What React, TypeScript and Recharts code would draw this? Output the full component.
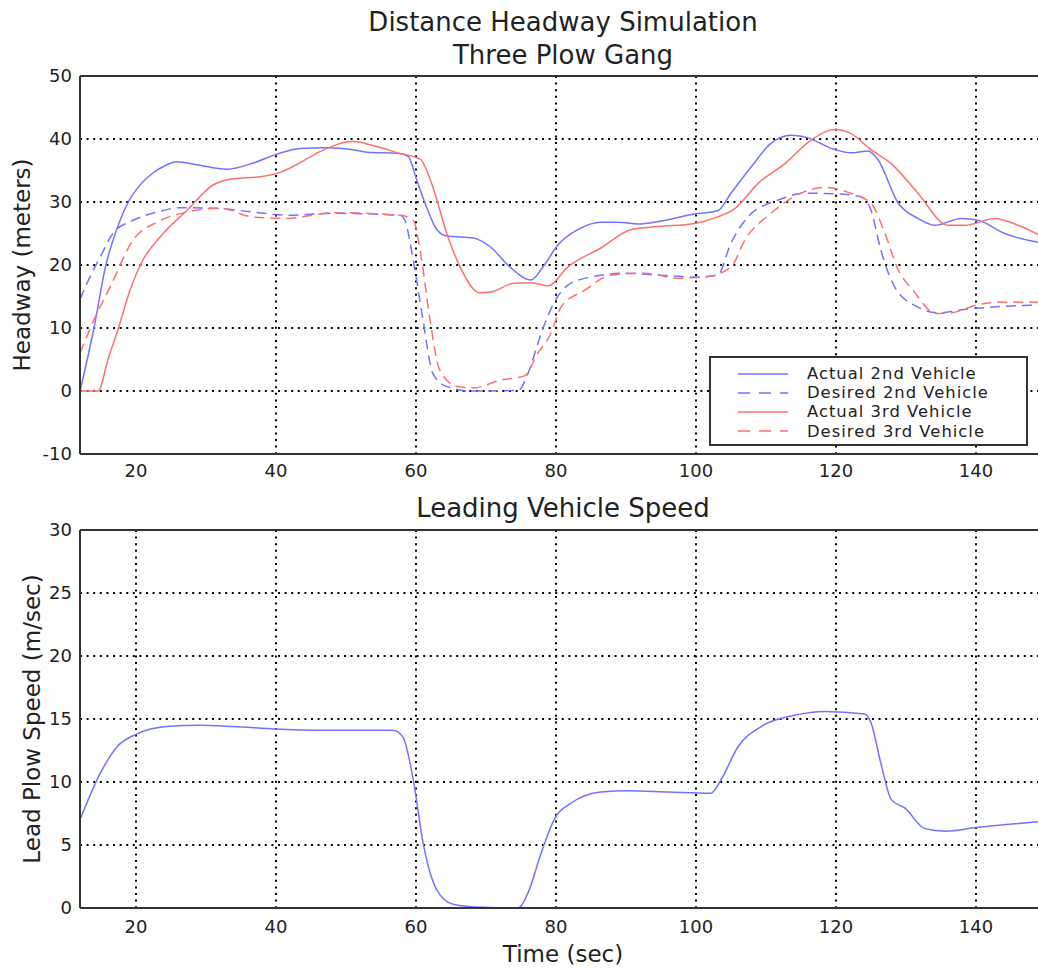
import React from "react";
import {
  CartesianGrid,
  Legend,
  Line,
  LineChart,
  ReferenceLine,
  XAxis,
  YAxis,
} from "recharts";

const timeTicks = [20, 40, 60, 80, 100, 120, 140];
const headwayTicks = [-10, 0, 10, 20, 30, 40, 50];
const speedTicks = [0, 5, 10, 15, 20, 25, 30];

// [time (sec), headway (m)]
const actual2nd: [number, number][] = [
  [12, 0], [14, 10], [15.7, 20], [17.2, 25.5], [18.9, 30], [20.5, 32.6],
  [22.4, 34.6], [24.2, 35.8], [25.8, 36.4], [28.7, 35.9], [33, 35.2],
  [36.8, 36.2], [40.1, 37.6], [43.4, 38.5], [47.2, 38.6], [51, 38.3],
  [53, 37.9], [57.7, 37.7], [58.9, 37.2], [60.1, 33.5], [61.5, 29.2],
  [63, 25.6], [64.4, 24.6], [68.2, 24.3], [70.6, 22.9], [73.4, 19.7],
  [76.4, 17.6], [78.2, 19.8], [80.3, 23.2], [83.1, 25.6], [86.4, 26.8],
  [88.9, 26.8], [91.7, 26.5], [95, 27], [99.8, 28.1], [103.1, 28.6],
  [105, 31.4], [107.9, 35.6], [110.7, 39.3], [113.6, 40.6], [115.6, 40.3],
  [119.9, 38.3], [122.1, 37.8], [124.6, 38.1], [126, 36.7], [128.9, 29.8],
  [131.7, 27.4], [134.1, 26.3], [137.9, 27.4], [140.3, 27.1], [144.1, 25],
  [150, 23.4],
];

const desired2nd: [number, number][] = [
  [12, 14.5], [13, 17.1], [14.9, 21.3], [16.7, 25], [19.6, 27.1], [23, 28.4],
  [26.3, 29.1], [31.4, 29], [36.8, 28.4], [41.6, 27.9], [48.2, 28.2],
  [57.7, 27.9], [58.4, 27.1], [59.6, 20.8], [61, 11.3], [62.4, 2.8],
  [64.4, 0.7], [68.2, 0], [74.6, 0.1], [76, 2.8], [77.9, 9.2], [79.9, 14.4],
  [81.7, 16.8], [85, 18.1], [89.9, 18.7], [94.6, 18.4], [99.8, 18.1],
  [103.1, 18.4], [105, 23.5], [107.4, 27.6], [111.7, 30.3], [115.6, 31.4],
  [120.3, 31.3], [123.6, 30.8], [125, 28.7], [126.4, 22.4], [128.4, 16.5],
  [131.7, 13.3], [134.6, 12.4], [137.9, 12.9], [142.1, 13.3], [150, 13.7],
];

const actual3rd: [number, number][] = [
  [12, 0], [14.6, 0], [16, 5], [17.5, 10], [19, 15.5], [20.7, 20.2],
  [23.4, 24.4], [27.3, 28.7], [31, 32.7], [33.9, 33.7], [37.7, 34],
  [40.6, 34.7], [43.4, 36.2], [46.3, 38], [51, 39.6], [54.4, 38.8],
  [57.7, 37.7], [60.6, 36.8], [62.4, 32.4], [64.4, 25], [66.3, 19.7],
  [69.1, 15.6], [71, 15.8], [73.9, 17.1], [76.5, 17.2], [78.9, 16.7],
  [81.7, 19.7], [86.4, 22.7], [90.7, 25.6], [94.6, 26.1], [99.8, 26.6],
  [103, 27.6], [105.6, 29], [108.9, 33], [112.7, 36.1], [116.4, 39.8],
  [119.9, 41.5], [122.1, 40.9], [125, 38.3], [127.9, 36.1], [131.7, 31.4],
  [136, 26.3], [138.4, 26.3], [142.7, 27.4], [146, 26.3], [150, 24.2],
];

const desired3rd: [number, number][] = [
  [12, 6], [14, 11.3], [16.3, 16.5], [19.6, 24], [23, 26.8], [27.3, 28.4],
  [32, 29], [36.8, 27.6], [41.6, 27.4], [48.2, 28.3], [57.7, 27.9],
  [59.6, 27.1], [60.8, 20.8], [62, 11.3], [63.4, 3.3], [65.9, 0.7],
  [68.2, 0.5], [72, 1.7], [75.5, 2.4], [77.4, 6], [79.3, 9.2], [80.7, 13.3],
  [84.1, 16], [87.9, 18.4], [92.7, 18.7], [97.4, 17.9], [101.3, 18.1],
  [105, 19.7], [107, 24], [110.7, 28.2], [115, 31.4], [118.4, 32.3],
  [122.1, 31.4], [125, 29.8], [127, 25], [128.9, 19.2], [131, 16],
  [134.3, 12.3], [136.4, 12.4], [140.3, 13.7], [143.6, 14.1], [150, 14.1],
];

// [time (sec), lead plow speed (m/sec)]
const leadSpeed: [number, number][] = [
  [12, 7], [14.9, 10.7], [17.3, 12.8], [20.1, 13.8], [24.4, 14.4],
  [29.1, 14.5], [33.9, 14.4], [40.1, 14.2], [45.8, 14.1], [56.7, 14.1],
  [58.1, 13.6], [59.6, 10.2], [61, 5.2], [63, 1.4], [65.3, 0.3], [69.6, 0.05],
  [74.6, 0], [76, 1.2], [77.9, 4.4], [79.9, 7.2], [82.1, 8.3], [86.4, 9.2],
  [90.3, 9.3], [96, 9.2], [102.1, 9.1], [103.6, 10.2], [106, 12.8],
  [109.3, 14.4], [114.1, 15.3], [118.4, 15.6], [124.1, 15.4], [125, 14.7],
  [126.4, 11.5], [127.9, 8.6], [129.9, 7.9], [132.7, 6.3], [135.6, 6.1],
  [140.3, 6.4], [150, 6.9],
];

const BLUE = "#7373ff";
const RED = "#ff7070";
const FONT = '"DejaVu Sans", Verdana, sans-serif';
const INK = "#222";

const headwaySeries = [
  { name: "Actual 2nd Vehicle", points: actual2nd, color: BLUE, dash: undefined },
  { name: "Desired 2nd Vehicle", points: desired2nd, color: BLUE, dash: "10 6" },
  { name: "Actual 3rd Vehicle", points: actual3rd, color: RED, dash: undefined },
  { name: "Desired 3rd Vehicle", points: desired3rd, color: RED, dash: "10 6" },
];

const toRows = (points: [number, number][]) =>
  points.map(([t, v]) => ({ t, v }));

const tickStyle = { fontSize: 18, fill: INK, fontFamily: FONT };
const gridProps = {
  stroke: "#000",
  strokeWidth: 2,
  strokeDasharray: "2 4.6",
};

const HeadwayLegend = () => (
  <div
    style={{
      boxSizing: "border-box",
      width: 319,
      height: 90,
      border: "2px solid #333",
      background: "#fff",
      padding: "6px 0 0 27px",
      fontFamily: FONT,
      fontSize: 16.4,
      letterSpacing: 1,
      color: INK,
    }}
  >
    {headwaySeries.map((s) => (
      <div
        key={s.name}
        style={{ display: "flex", alignItems: "center", height: 19.2, lineHeight: "19.2px" }}
      >
        <svg width={50} height={6}>
          <line
            x1={0}
            y1={3}
            x2={50}
            y2={3}
            stroke={s.color}
            strokeWidth={1.5}
            strokeDasharray={s.dash ? "12 9" : undefined}
          />
        </svg>
        <span style={{ marginLeft: 19, whiteSpace: "nowrap" }}>{s.name}</span>
      </div>
    ))}
  </div>
);

const App: React.FC = () => {
  return (
    <div
      style={{
        position: "absolute",
        left: 0,
        top: 0,
        width: 1038,
        height: 970,
        overflow: "hidden",
        background: "#fff",
        fontFamily: FONT,
        color: INK,
      }}
    >
      <div
        style={{
          position: "absolute",
          left: 0,
          top: 6,
          width: 1126,
          textAlign: "center",
          fontSize: 26,
          lineHeight: "33px",
        }}
      >
        Distance Headway Simulation
        <br />
        Three Plow Gang
      </div>

      <div style={{ position: "absolute", left: 0, top: 0 }}>
        <LineChart
          width={1060}
          height={480}
          margin={{ top: 76, right: 14, bottom: 0, left: 10 }}
        >
          <CartesianGrid
            {...gridProps}
            verticalValues={[40, 60, 80, 100, 120, 140]}
            horizontalValues={[0, 10, 20, 30, 40]}
          />
          <XAxis
            dataKey="t"
            type="number"
            domain={[12, 150]}
            ticks={timeTicks}
            allowDataOverflow
            height={26}
            tickLine={false}
            tickSize={0}
            tickMargin={10}
            axisLine={{ stroke: "#333", strokeWidth: 2 }}
            tick={tickStyle}
          />
          <YAxis
            type="number"
            domain={[-10, 50]}
            ticks={headwayTicks}
            width={70}
            tickLine={false}
            tickSize={0}
            tickMargin={8}
            axisLine={{ stroke: "#333", strokeWidth: 2 }}
            tick={tickStyle}
            label={{
              value: "Headway (meters)",
              angle: -90,
              position: "insideLeft",
              offset: 12,
              style: { textAnchor: "middle", fontSize: 23, fill: INK, fontFamily: FONT },
            }}
          />
          <ReferenceLine y={50} stroke="#333" strokeWidth={2} />
          {headwaySeries.map((s) => (
            <Line
              key={s.name}
              name={s.name}
              data={toRows(s.points)}
              dataKey="v"
              type="monotone"
              stroke={s.color}
              strokeWidth={1.5}
              strokeDasharray={s.dash}
              dot={false}
              activeDot={false}
              isAnimationActive={false}
            />
          ))}
          <Legend
            layout="horizontal"
            verticalAlign="middle"
            align="center"
            content={HeadwayLegend}
            wrapperStyle={{ position: "absolute", left: 709, top: 356, width: 319, height: 90 }}
          />
        </LineChart>
      </div>

      <div
        style={{
          position: "absolute",
          left: 0,
          top: 493,
          width: 1126,
          textAlign: "center",
          fontSize: 26,
          lineHeight: "30px",
        }}
      >
        Leading Vehicle Speed
      </div>

      <div style={{ position: "absolute", left: 0, top: 490 }}>
        <LineChart
          width={1060}
          height={480}
          margin={{ top: 40, right: 14, bottom: 4, left: 10 }}
        >
          <CartesianGrid
            {...gridProps}
            verticalValues={timeTicks}
            horizontalValues={[5, 10, 15, 20, 25]}
          />
          <XAxis
            dataKey="t"
            type="number"
            domain={[12, 150]}
            ticks={timeTicks}
            allowDataOverflow
            height={58}
            tickLine={false}
            tickSize={0}
            tickMargin={12}
            axisLine={{ stroke: "#333", strokeWidth: 2 }}
            tick={tickStyle}
            label={{
              value: "Time (sec)",
              position: "insideBottom",
              offset: 4,
              style: { fontSize: 23, fill: INK, fontFamily: FONT },
            }}
          />
          <YAxis
            type="number"
            domain={[0, 30]}
            ticks={speedTicks}
            width={70}
            tickLine={false}
            tickSize={0}
            tickMargin={8}
            axisLine={{ stroke: "#333", strokeWidth: 2 }}
            tick={tickStyle}
            label={{
              value: "Lead Plow Speed (m/sec)",
              angle: -90,
              position: "insideLeft",
              offset: 22,
              style: { textAnchor: "middle", fontSize: 23, fill: INK, fontFamily: FONT },
            }}
          />
          <ReferenceLine y={30} stroke="#333" strokeWidth={2} />
          <Line
            name="Lead Plow Speed"
            data={toRows(leadSpeed)}
            dataKey="v"
            type="monotone"
            stroke={BLUE}
            strokeWidth={1.5}
            dot={false}
            activeDot={false}
            isAnimationActive={false}
          />
        </LineChart>
      </div>
    </div>
  );
};

export default App;
